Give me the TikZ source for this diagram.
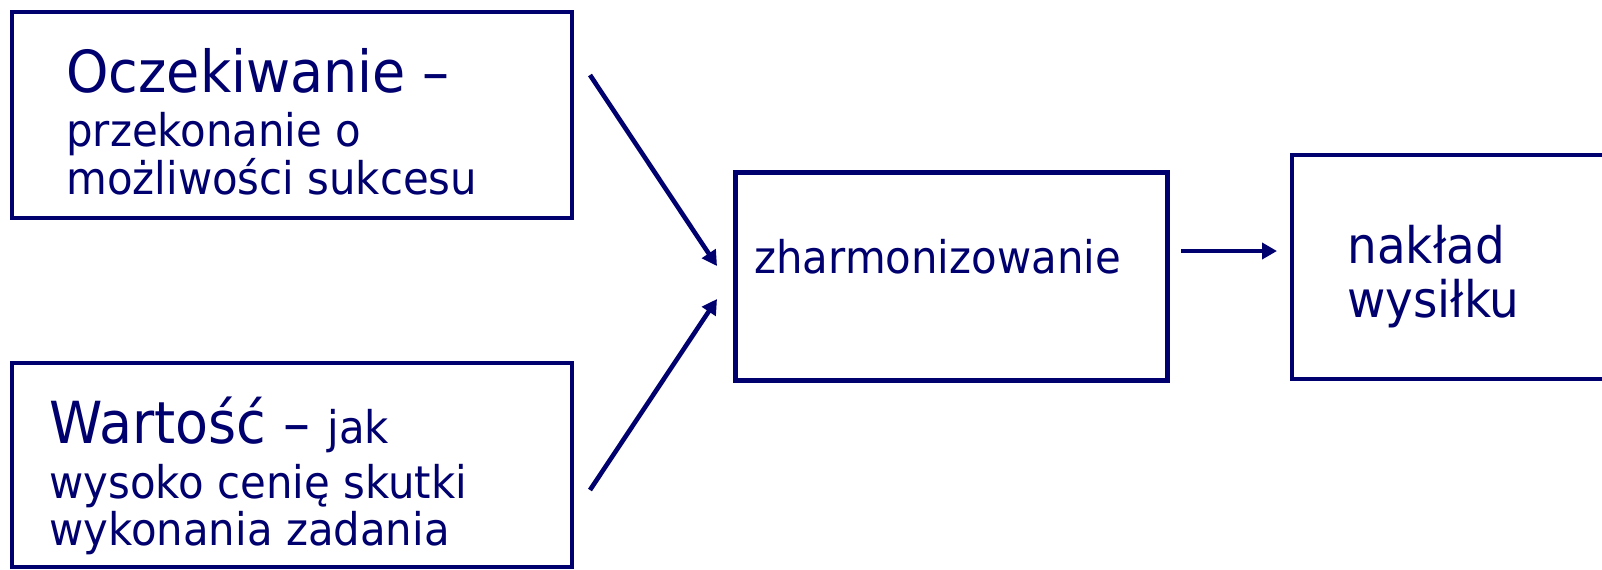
\documentclass[tikz,border=0pt]{standalone}
\usepackage{fontspec}
\setmainfont{DejaVu Sans}[FakeStretch=0.93]
\usetikzlibrary{arrows.meta}
\definecolor{navy}{RGB}{0,0,110}
\begin{document}
\begin{tikzpicture}[x=0.5pt,y=-0.5pt,
  boxframe/.style={draw=navy,line width=2.3pt,inner sep=0pt},
  bigtxt/.style={anchor=base west,inner sep=0pt,text=navy,font=\fontsize{29}{34}\selectfont},
  smalltxt/.style={anchor=base west,inner sep=0pt,text=navy,font=\fontsize{22.5}{27}\selectfont},
  midtxt/.style={anchor=base west,inner sep=0pt,text=navy,font=\fontsize{25.2}{30}\selectfont},
  conn/.style={draw=navy,line width=2.3pt,-{Triangle[length=7.5pt,width=8pt]}}]
\useasboundingbox (0,0) rectangle (1602,569);
% boxes
\draw[boxframe] (12,12) rectangle (572,218);
\draw[boxframe] (12,363) rectangle (572,567);
\node[boxframe,minimum width=216pt,minimum height=104pt,anchor=north west] (harm) at (733,170) {};
\draw[boxframe] (1292,155) rectangle (1620,379);
% texts
\node[bigtxt] (o1) at (66,92) {Oczekiwanie –};
\node[smalltxt] (o2) at (66,146) {przekonanie o};
\node[smalltxt] (o3) at (66,194) {możliwości sukcesu};
\node[bigtxt] (w1) at (49,443) {Wartość – \fontsize{22.5}{27}\selectfont jak};
\node[smalltxt] (w2) at (49,498) {wysoko cenię skutki};
\node[smalltxt] (w3) at (49,545) {wykonania zadania};
\node[smalltxt] (h1) at (754,273) {zharmonizowanie};
\node[midtxt] (n1) at (1347,263) {nakład};
\node[midtxt] (n2) at (1347,317) {wysiłku};
% connectors
\coordinate (a1s) at (590,75);
\coordinate (a1e) at (717,266);
\coordinate (a2s) at (590,490);
\coordinate (a2e) at (717,299);
\coordinate (a3s) at (1181,251);
\coordinate (a3e) at (1277,251);
\draw[conn] (a1s) -- (a1e);
\draw[conn] (a2s) -- (a2e);
\draw[conn] (a3s) -- (a3e);
\end{tikzpicture}
\end{document}
